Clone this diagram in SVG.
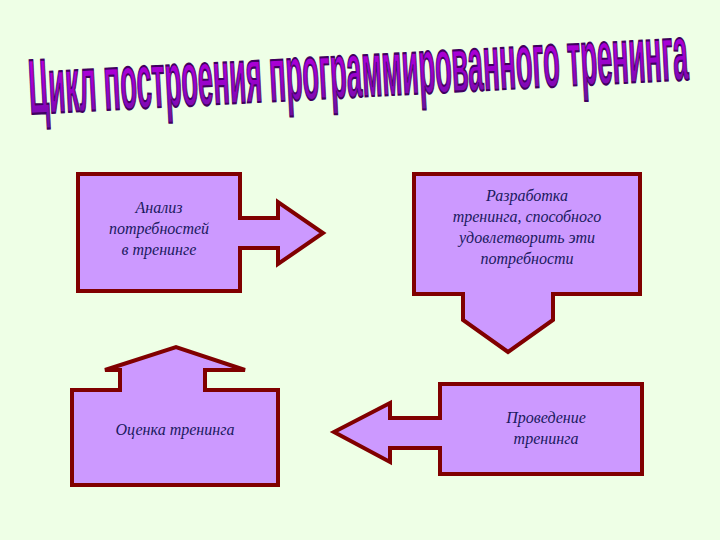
<svg xmlns="http://www.w3.org/2000/svg" width="720" height="540" viewBox="0 0 720 540">
<defs>
<linearGradient id="tg" x1="0" y1="0" x2="0" y2="1">
<stop offset="0" stop-color="#c000e0"/><stop offset="0.5" stop-color="#a000d0"/><stop offset="1" stop-color="#6a10a0"/>
</linearGradient>
</defs>
<style>
.sh{fill:#cc99ff;stroke:#800000;stroke-width:4;stroke-linejoin:miter}
.t{font-family:"Liberation Serif",serif;font-style:italic;font-size:16px;fill:#1a1a60;text-anchor:middle}
</style>
<rect width="720" height="540" fill="#eeffe6"/>
<g id="title" transform="translate(30,114) rotate(-3) scale(1,2.6)">
<text x="0" y="0" font-family="Liberation Sans,sans-serif" font-weight="bold" font-size="30" textLength="660" lengthAdjust="spacingAndGlyphs" fill="url(#tg)" stroke="#400060" stroke-width="0.8">Цикл построения программированного тренинга</text>
</g>
<g id="n1">
<path class="sh" d="M78,174 H240 V218 H278 V202 L323,233 L278,264 V248 H240 V291 H78 Z"/>
<text class="t" x="159" y="213">Анализ</text>
<text class="t" x="159" y="234">потребностей</text>
<text class="t" x="159" y="255">в тренинге</text>
</g>
<g id="n2">
<path class="sh" d="M414,174 H640 V294 H553 V320 L553,320 L508,352 L463,320 V294 H414 Z"/>
<text class="t" x="527" y="201">Разработка</text>
<text class="t" x="527" y="222">тренинга, способного</text>
<text class="t" x="527" y="243">удовлетворить эти</text>
<text class="t" x="527" y="264">потребности</text>
</g>
<g id="n3">
<path class="sh" d="M642,384 H440 V418 H390 V403 L334,432 L390,462 V448 H440 V474 H642 Z"/>
<text class="t" x="546" y="423">Проведение</text>
<text class="t" x="546" y="444">тренинга</text>
</g>
<g id="n4">
<path class="sh" d="M72,390 H120 V370 H105 L176,347 L245,370 H205 V390 H278 V485 H72 Z"/>
<text class="t" x="175" y="435">Оценка тренинга</text>
</g>
<g id="connectors"/>
</svg>
